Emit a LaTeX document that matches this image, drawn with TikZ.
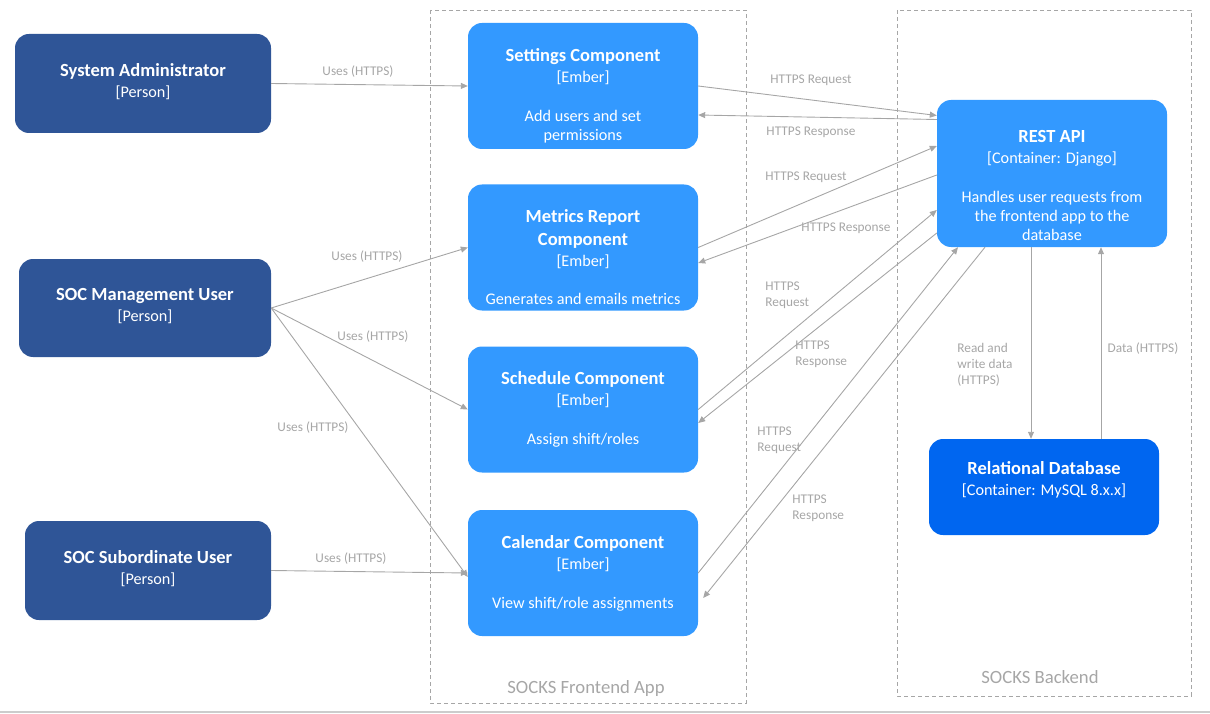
\documentclass[tikz,border=0pt]{standalone}
\usepackage{fontspec}
\setmainfont{Carlito}
\usepackage{xcolor}
\usetikzlibrary{arrows.meta}
\usetikzlibrary{calc}

\definecolor{personblue}{RGB}{47,85,151}
\definecolor{compblue}{RGB}{51,153,255}
\definecolor{dbblue}{RGB}{0,102,240}
\definecolor{linegray}{RGB}{166,166,166}

\newcommand{\ttl}[1]{{\fontsize{18.5}{19}\selectfont\bfseries #1}}

\tikzset{
    box/.style={rounded corners=14pt, inner sep=0pt},
    person/.style={box, fill=personblue},
    comp/.style={box, fill=compblue, minimum width=230pt, minimum height=126pt},
    boxtext/.style={anchor=north, text=white, align=center, inner sep=0pt,
        font=\fontsize{16.2}{19}\selectfont},
    boundary/.style={draw=linegray, line width=0.8pt, dash pattern=on 4pt off 3pt},
    bndtext/.style={text=linegray, font=\fontsize{18.7}{21}\selectfont},
    conn/.style={draw=linegray, line width=0.9pt, -{Triangle[length=7pt,width=6pt]}},
    lbl/.style={text=linegray, font=\fontsize{13.3}{16}\selectfont, inner sep=0pt},
    lbltwo/.style={lbl, anchor=west, align=left}
}

\begin{document}
\begin{tikzpicture}[x=1pt,y=-1pt]
    \useasboundingbox (0,0) rectangle (1210,714);

    % grenzen
    \draw[boundary] (430,10) rectangle (746,703);
    \draw[boundary] (897,10) rectangle (1191,696);
    \node[bndtext] (fe) at (586,689) {SOCKS Frontend App};
    \node[bndtext] (be) at (1040,677) {SOCKS Backend};
    \draw[line width=2pt, draw=black!20] (0,712) -- (1210,712);

    % personen
    \node[person, minimum width=256pt, minimum height=99pt] (admin) at (143,83.5) {};
    \node[person, minimum width=252pt, minimum height=98pt] (mgmt) at (145,308) {};
    \node[person, minimum width=246pt, minimum height=99pt] (sub) at (148,570.5) {};
    \node[boxtext] (admin-t) at ([yshift=-29.5pt]admin.north) {\ttl{System Administrator}\\[2pt][Person]};
    \node[boxtext] (mgmt-t) at ([yshift=-29.5pt]mgmt.north) {\ttl{SOC Management User}\\[2pt][Person]};
    \node[boxtext] (sub-t) at ([yshift=-29.5pt]sub.north) {\ttl{SOC Subordinate User}\\[2pt][Person]};

    % frontend
    \node[comp] (sett) at (583,86) {};
    \node[comp] (metr) at (583,247.5) {};
    \node[comp] (sched) at (583,409.5) {};
    \node[comp] (cal) at (583,573) {};
    \node[boxtext] (sett-t) at ([yshift=-25.5pt]sett.north) {\ttl{Settings Component}\\[2pt][Ember]\\[20pt]Add users and set\\permissions};
    \node[boxtext] (metr-t) at ([yshift=-25.5pt]metr.north) {\ttl{Metrics Report}\\[4pt]\ttl{Component}\\[2pt][Ember]\\[19pt]Generates and emails metrics};
    \node[boxtext] (sched-t) at ([yshift=-25.5pt]sched.north) {\ttl{Schedule Component}\\[2pt][Ember]\\[20pt]Assign shift/roles};
    \node[boxtext] (cal-t) at ([yshift=-25.5pt]cal.north) {\ttl{Calendar Component}\\[2pt][Ember]\\[20pt]View shift/role assignments};

    % backend
    \node[box, fill=compblue, minimum width=230pt, minimum height=147pt] (rest) at (1052,173.5) {};
    \node[box, fill=dbblue, minimum width=230pt, minimum height=96pt] (db) at (1044,487) {};
    \node[boxtext] (rest-t) at ([yshift=-30pt]rest.north) {\ttl{REST API}\\[2pt][Container: Django]\\[20pt]Handles user requests from\\the frontend app to the\\database};
    \node[boxtext] (db-t) at ([yshift=-22pt]db.north) {\ttl{Relational Database}\\[2pt][Container: MySQL 8.x.x]};

    % gebruikers naar frontend
    \draw[conn] (admin.east) -- (sett.west) node[lbl] at (358,72) {Uses (HTTPS)};
    \draw[conn] (mgmt.east) -- (metr.west) node[lbl] at (367,257) {Uses (HTTPS)};
    \draw[conn] (mgmt.east) -- (sched.west) node[lbl] at (373,337) {Uses (HTTPS)};
    \draw[conn] (mgmt.east) -- ([yshift=-4pt]cal.west) node[lbl] at (313,428) {Uses (HTTPS)};
    \draw[conn] (sub.east) -- (cal.west) node[lbl] at (351,559) {Uses (HTTPS)};

    % frontend naar REST API
    \draw[conn] (sett.east) -- ([yshift=58pt]rest.west) node[lbl] at (811,80) {HTTPS Request};
    \draw[conn] ([yshift=54pt]rest.west) -- ([yshift=-29pt]sett.east) node[lbl] at (811,132) {HTTPS Response};
    \draw[conn] (metr.east) -- ([yshift=27.5pt]rest.west) node[lbl] at (806,177) {HTTPS Request};
    \draw[conn] ([yshift=-1.5pt]rest.west) -- ([yshift=-15.5pt]metr.east) node[lbl] at (846,228) {HTTPS Response};
    \draw[conn] (sched.east) -- ([yshift=-36.5pt]rest.west) node[lbltwo] at (765,295) {HTTPS\\Request};
    \draw[conn] ([yshift=-59.5pt]rest.west) -- ([yshift=-13.5pt]sched.east) node[lbltwo] at (795,354) {HTTPS\\Response};
    \draw[conn] (cal.east) -- ([xshift=-94pt]rest.south) node[lbltwo] at (757,440) {HTTPS\\Request};
    \draw[conn] ([xshift=-67pt]rest.south) -- ([xshift=5pt,yshift=-25pt]cal.east) node[lbltwo] at (792,508) {HTTPS\\Response};

    % REST API en database
    \draw[conn] ([xshift=-21pt]rest.south) -- ([xshift=-21pt]rest.south |- db.north) node[lbltwo] at (957,365) {Read and\\write data\\(HTTPS)};
    \draw[conn] ([xshift=57pt]db.north) -- ([xshift=57pt]db.north |- rest.south) node[lbl] at (1143,349) {Data (HTTPS)};
\end{tikzpicture}
\end{document}
